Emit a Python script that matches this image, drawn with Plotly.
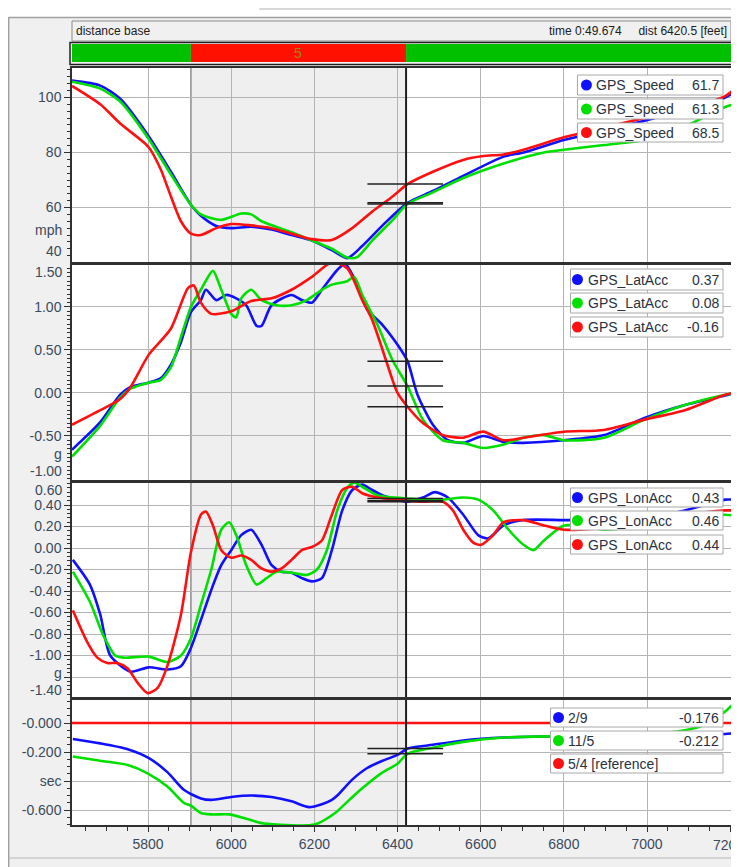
import plotly.graph_objects as go
from plotly.subplots import make_subplots

# ------------------------------------------------------------------ data
X_RANGE = [5617, 7202]
CURSOR = 6420.5
SECTION_BOUNDS = [5617, 5903, 6420.5, 7202]
SECTION_COLORS = ["#00c000", "#ff1000", "#00c000"]
SECTION_LABELS = ["", "5", ""]
EDGE_TICK = 7200  # last x tick, its label is cut by the window edge

speed_blue_x = [5617, 5685, 5733, 5801, 5855, 5903, 5927, 5964, 6000, 6048, 6097, 6145, 6194, 6242, 6279, 6315, 6364, 6424, 6485, 6558, 6655, 6703, 6800, 6897, 6994, 7091, 7188, 7210]
speed_blue_y = [106.1, 104.3, 99.5, 86, 73, 61, 57, 53.3, 52.5, 53, 52, 50, 48, 44.5, 41.6, 46, 53.5, 61.7, 66, 71.5, 78.5, 80, 84.5, 88, 91.5, 95.5, 100, 102]
speed_green_x = [5617, 5685, 5733, 5801, 5855, 5903, 5927, 5976, 6024, 6048, 6073, 6145, 6194, 6242, 6279, 6303, 6339, 6388, 6424, 6485, 6558, 6655, 6752, 6800, 6897, 6994, 7091, 7188, 7210]
speed_green_y = [105.7, 103.2, 98.5, 85, 72, 61, 57.5, 55.5, 57.8, 57.5, 55, 51, 48, 45, 41.8, 42, 48, 55.4, 61.3, 65.5, 70.7, 76, 80, 81, 82.7, 84.5, 89.5, 96.5, 97.5]
speed_red_x = [5617, 5685, 5733, 5801, 5830, 5855, 5879, 5903, 5927, 5964, 6000, 6048, 6097, 6145, 6194, 6242, 6291, 6339, 6388, 6424, 6485, 6558, 6606, 6655, 6703, 6800, 6897, 6994, 7091, 7188, 7210]
speed_red_y = [104.2, 97.5, 90.5, 82, 74, 64, 55, 50.5, 50, 52.5, 54, 53.5, 52.5, 50.5, 48.5, 48.2, 52.5, 58.5, 64, 68.5, 73, 77.3, 78.7, 79.3, 81, 85.5, 89, 92.5, 95.5, 100.5, 103]

lat_blue_x = [5617, 5685, 5733, 5758, 5801, 5830, 5855, 5879, 5903, 5927, 5939, 5964, 5988, 6012, 6036, 6061, 6073, 6097, 6145, 6170, 6194, 6218, 6255, 6274, 6303, 6327, 6364, 6400, 6424, 6448, 6485, 6521, 6558, 6606, 6655, 6703, 6800, 6897, 6994, 7091, 7188, 7210]
lat_blue_y = [-0.66, -0.34, -0.02, 0.07, 0.12, 0.17, 0.33, 0.59, 0.94, 1.08, 1.2, 1.08, 1.14, 1.1, 1.02, 0.78, 0.78, 1.02, 1.14, 1.08, 1.05, 1.2, 1.43, 1.5, 1.26, 0.97, 0.79, 0.56, 0.37, -0.02, -0.37, -0.55, -0.58, -0.5, -0.57, -0.58, -0.55, -0.49, -0.29, -0.14, -0.03, 0.0]
lat_green_x = [5617, 5685, 5733, 5758, 5801, 5830, 5855, 5879, 5903, 5927, 5956, 5976, 6000, 6012, 6024, 6048, 6073, 6109, 6145, 6182, 6218, 6242, 6279, 6296, 6315, 6352, 6388, 6424, 6461, 6509, 6558, 6606, 6655, 6703, 6752, 6800, 6897, 6994, 7091, 7188, 7210]
lat_green_y = [-0.74, -0.38, -0.05, 0.05, 0.12, 0.15, 0.3, 0.65, 1.0, 1.2, 1.42, 1.2, 0.92, 0.88, 1.1, 1.2, 1.08, 1.02, 1.02, 1.08, 1.2, 1.26, 1.3, 1.35, 1.14, 0.79, 0.38, 0.08, -0.31, -0.55, -0.58, -0.64, -0.6, -0.52, -0.49, -0.55, -0.52, -0.31, -0.14, -0.02, 0.0]
lat_red_x = [5617, 5685, 5733, 5758, 5801, 5855, 5896, 5910, 5927, 5952, 6000, 6048, 6097, 6145, 6194, 6242, 6279, 6315, 6339, 6364, 6388, 6400, 6424, 6461, 6509, 6558, 6606, 6655, 6703, 6800, 6897, 6994, 7091, 7188, 7210]
lat_red_y = [-0.37, -0.2, -0.07, 0.07, 0.44, 0.75, 1.22, 1.25, 1.05, 0.92, 0.95, 1.07, 1.1, 1.2, 1.35, 1.52, 1.45, 1.08, 0.85, 0.5, 0.15, 0.0, -0.16, -0.35, -0.49, -0.52, -0.45, -0.55, -0.52, -0.45, -0.43, -0.31, -0.2, -0.02, 0.0]

lon_blue_x = [5619, 5660, 5685, 5709, 5758, 5801, 5847, 5879, 5903, 5927, 5952, 5976, 6000, 6024, 6048, 6073, 6097, 6121, 6145, 6170, 6194, 6218, 6242, 6267, 6291, 6315, 6339, 6364, 6400, 6424, 6461, 6490, 6521, 6558, 6594, 6618, 6655, 6703, 6800, 6897, 6994, 7091, 7188, 7210]
lon_blue_y = [-0.11, -0.34, -0.62, -1.0, -1.15, -1.11, -1.13, -1.1, -0.93, -0.67, -0.39, -0.16, -0.02, 0.12, 0.17, 0.03, -0.16, -0.22, -0.23, -0.28, -0.31, -0.28, -0.02, 0.35, 0.54, 0.59, 0.54, 0.49, 0.45, 0.43, 0.47, 0.52, 0.47, 0.31, 0.12, 0.09, 0.21, 0.26, 0.26, 0.26, 0.28, 0.35, 0.45, 0.45]
lon_green_x = [5619, 5660, 5692, 5721, 5741, 5801, 5847, 5879, 5903, 5927, 5952, 5976, 5995, 6012, 6036, 6061, 6085, 6109, 6145, 6182, 6206, 6230, 6255, 6279, 6296, 6315, 6352, 6424, 6509, 6558, 6594, 6630, 6667, 6703, 6727, 6752, 6800, 6848, 6897, 6994, 7091, 7188, 7210]
lon_green_y = [-0.22, -0.5, -0.81, -1.0, -1.02, -1.01, -1.06, -1.0, -0.84, -0.53, -0.2, 0.17, 0.24, 0.12, -0.16, -0.34, -0.28, -0.22, -0.23, -0.25, -0.2, -0.02, 0.35, 0.56, 0.61, 0.57, 0.49, 0.46, 0.45, 0.47, 0.45, 0.35, 0.17, 0.03, -0.02, 0.07, 0.21, 0.2, 0.17, 0.21, 0.26, 0.31, 0.3]
lon_red_x = [5619, 5653, 5678, 5702, 5726, 5751, 5774, 5799, 5823, 5847, 5879, 5903, 5927, 5939, 5956, 5976, 6000, 6024, 6048, 6073, 6097, 6121, 6145, 6170, 6194, 6218, 6242, 6267, 6291, 6315, 6352, 6424, 6461, 6509, 6533, 6558, 6582, 6601, 6630, 6655, 6703, 6752, 6800, 6897, 6994, 7091, 7188, 7210]
lon_red_y = [-0.58, -0.87, -1.02, -1.07, -1.07, -1.12, -1.25, -1.35, -1.3, -1.09, -0.62, -0.04, 0.31, 0.34, 0.21, -0.02, -0.09, -0.07, -0.11, -0.19, -0.22, -0.19, -0.11, -0.02, 0.01, 0.07, 0.31, 0.54, 0.57, 0.51, 0.47, 0.44, 0.43, 0.43, 0.35, 0.17, 0.05, 0.03, 0.12, 0.24, 0.26, 0.21, 0.17, 0.19, 0.26, 0.31, 0.35, 0.35]

time_blue_x = [5619, 5685, 5751, 5801, 5847, 5886, 5927, 5952, 6000, 6048, 6097, 6145, 6187, 6218, 6242, 6255, 6291, 6327, 6364, 6400, 6424, 6485, 6558, 6655, 6800, 6897, 6994, 7091, 7188, 7210]
time_blue_y = [-0.11, -0.14, -0.18, -0.24, -0.34, -0.46, -0.52, -0.53, -0.51, -0.5, -0.51, -0.54, -0.58, -0.56, -0.53, -0.5, -0.39, -0.31, -0.26, -0.22, -0.176, -0.15, -0.12, -0.1, -0.09, -0.085, -0.08, -0.078, -0.075, -0.07]
time_green_x = [5619, 5685, 5751, 5801, 5847, 5886, 5903, 5927, 5952, 5995, 6036, 6073, 6110, 6200, 6250, 6284, 6315, 6364, 6400, 6424, 6485, 6558, 6655, 6800, 6994, 7091, 7139, 7188, 7210]
time_green_y = [-0.23, -0.26, -0.29, -0.35, -0.44, -0.55, -0.57, -0.62, -0.63, -0.63, -0.66, -0.69, -0.7, -0.7, -0.62, -0.53, -0.45, -0.34, -0.28, -0.212, -0.17, -0.13, -0.1, -0.09, -0.08, -0.05, -0.01, 0.08, 0.14]
time_red_x = [5617, 7210]
time_red_y = [0.0, 0.0]

speed_names = ["GPS_Speed", "GPS_Speed", "GPS_Speed"]
speed_vals = [61.7, 61.3, 68.5]
lat_names = ["GPS_LatAcc", "GPS_LatAcc", "GPS_LatAcc"]
lat_vals = [0.37, 0.08, -0.16]
lon_names = ["GPS_LonAcc", "GPS_LonAcc", "GPS_LonAcc"]
lon_vals = [0.43, 0.46, 0.44]
time_names = ["2/9", "11/5", "5/4 [reference]"]
time_vals = [-0.176, -0.212, None]

# ------------------------------------------------------------------ style
BLUE, GREEN, RED = "#1010ff", "#00e000", "#ff1010"
COLORS = [BLUE, GREEN, RED]
FONT = "Liberation Sans"
TICKC = "#3b4a5c"
GRIDC = "#b4b4b4"
AXC = "#303030"
OFF = 8                      # page body margin
W, H = 739 - OFF, 867 - OFF  # figure size
L, T, PW, PH = 72 - OFF, 68 - OFF, 661, 757


def PX(x):
    """reference-page pixel x -> paper coordinate"""
    return (x - OFF - L) / PW


def PY(y):
    """reference-page pixel y -> paper coordinate"""
    return (T + PH - (y - OFF)) / PH


fig = make_subplots(rows=4, cols=1, shared_xaxes=True, vertical_spacing=0.01)

panels = [
    ([speed_blue_x, speed_green_x, speed_red_x], [speed_blue_y, speed_green_y, speed_red_y]),
    ([lat_blue_x, lat_green_x, lat_red_x], [lat_blue_y, lat_green_y, lat_red_y]),
    ([lon_blue_x, lon_green_x, lon_red_x], [lon_blue_y, lon_green_y, lon_red_y]),
    ([time_blue_x, time_green_x, time_red_x], [time_blue_y, time_green_y, time_red_y]),
]
for r, (xs, ys) in enumerate(panels, start=1):
    for c, xx, yy in zip(COLORS, xs, ys):
        fig.add_trace(go.Scatter(x=xx, y=yy, mode="lines", showlegend=False,
                                 line=dict(color=c, width=2.6, shape="spline", smoothing=0.7),
                                 hoverinfo="skip"), row=r, col=1)

# pixel extents (reference page) of each panel
pix = [(68, 262), (265, 480), (483, 697), (700, 825)]
yranges = [[40.2, 110.7], [-1.012, 1.488], [-1.386, 0.605], [-0.703, 0.159]]
tickvals = [[100, 80, 60], [1.0, 0.5, 0.0, -0.5], [0.4, 0.2, 0.0, -0.2, -0.4, -0.6, -0.8, -1.0, -1.2], [0.0, -0.2, -0.4, -0.6]]
ticktext = [["100", "80", "60"], ["1.00", "0.50", "0.00", "-0.50"],
            ["0.40", "0.20", "0.00", "-0.20", "-0.40", "-0.60", "-0.80", "-1.00", ""],
            ["-0.000", "-0.200", "sec", "-0.600"]]
minor_dt = [2.5, 0.05, 0.04, 0.05]

for i in range(4):
    yname = "yaxis" if i == 0 else f"yaxis{i+1}"
    top, bot = pix[i]
    fig.layout[yname].update(
        domain=[PY(bot), PY(top)], range=yranges[i], tickmode="array",
        tickvals=tickvals[i], ticktext=ticktext[i], ticks="outside", ticklen=6,
        tickcolor=AXC, tickwidth=1, showline=True, mirror=True, linecolor=AXC, linewidth=1.5,
        showgrid=True, gridcolor=GRIDC, gridwidth=1, zeroline=False,
        tickfont=dict(family=FONT, size=14, color=TICKC),
        minor=dict(tickmode="linear", tick0=0, dtick=minor_dt[i], ticks="outside", ticklen=3,
                   tickcolor=AXC, showgrid=False),
    )
    xname = "xaxis" if i == 0 else f"xaxis{i+1}"
    fig.layout[xname].update(
        range=X_RANGE, tick0=5800, dtick=200, showgrid=True, gridcolor=GRIDC, gridwidth=1,
        showline=True, mirror=True, linecolor=AXC, linewidth=1.5, zeroline=False,
        showticklabels=(i == 3), ticks="outside" if i == 3 else "", ticklen=5, tickcolor=AXC,
        tickfont=dict(family=FONT, size=14, color=TICKC),
    )
fig.layout.xaxis4.minor = dict(dtick=50, tick0=5800, ticks="outside", ticklen=4, tickcolor=AXC, showgrid=False)

shapes = []
annots = []
# outer window frame
shapes.append(dict(type="rect", xref="paper", yref="paper", x0=PX(0), x1=PX(739), y0=PY(17), y1=PY(0),
                   fillcolor="white", line=dict(width=0), layer="above"))
shapes.append(dict(type="line", xref="paper", yref="paper", x0=PX(8.5), x1=PX(8.5), y0=PY(867), y1=PY(17),
                   line=dict(color="#a0a0a0", width=1.5), layer="above"))
shapes.append(dict(type="line", xref="paper", yref="paper", x0=PX(8.5), x1=PX(739), y0=PY(17.5), y1=PY(17.5),
                   line=dict(color="#a0a0a0", width=1.5), layer="above"))
shapes.append(dict(type="line", xref="paper", yref="paper", x0=PX(260), x1=PX(739), y0=PY(9), y1=PY(9),
                   line=dict(color="#b0b0b0", width=1), layer="above"))
shapes.append(dict(type="line", xref="paper", yref="paper", x0=PX(8.5), x1=PX(739), y0=PY(858), y1=PY(858),
                   line=dict(color="#b8b8b8", width=1), layer="above"))

# header
shapes.append(dict(type="rect", xref="paper", yref="paper", x0=PX(72), x1=PX(733), y0=PY(41), y1=PY(21),
                   fillcolor="#f0f0f0", line=dict(color="#8a8a8a", width=1), layer="above"))
annots.append(dict(text="distance base", xref="paper", yref="paper", x=PX(74), y=PY(31), xanchor="left",
                   yanchor="middle", showarrow=False, font=dict(family=FONT, size=12, color="#202020")))
annots.append(dict(text="time 0:49.674&nbsp;&nbsp;&nbsp;&nbsp;&nbsp;dist 6420.5 [feet]", xref="paper", yref="paper",
                   x=PX(731), y=PY(31), xanchor="right", yanchor="middle", showarrow=False,
                   font=dict(family=FONT, size=12, color="#202020")))
# section bar
shapes.append(dict(type="rect", xref="paper", yref="paper", x0=PX(70), x1=PX(734.5), y0=PY(64.5), y1=PY(42.5),
                   fillcolor="rgba(0,0,0,0)", line=dict(color="#202020", width=1.5), layer="above"))
for i, col in enumerate(SECTION_COLORS):
    shapes.append(dict(type="rect", xref="x", yref="paper", x0=SECTION_BOUNDS[i], x1=SECTION_BOUNDS[i + 1],
                       y0=PY(62), y1=PY(44), fillcolor=col, line=dict(width=0), layer="above"))
    if SECTION_LABELS[i]:
        annots.append(dict(text=SECTION_LABELS[i], xref="x", yref="paper",
                           x=(SECTION_BOUNDS[i] + SECTION_BOUNDS[i + 1]) / 2, y=PY(53), yanchor="middle",
                           showarrow=False, font=dict(family=FONT, size=14, color="#a88400")))

# shading, boundary, cursor per panel
yrefs = ["y", "y2", "y3", "y4"]
for i in range(4):
    shapes.append(dict(type="rect", xref="x", yref=f"{yrefs[i]} domain", x0=SECTION_BOUNDS[1], x1=CURSOR,
                       y0=0, y1=1, fillcolor="#efefef", line=dict(width=0), layer="below"))
    shapes.append(dict(type="line", xref="x", yref=f"{yrefs[i]} domain", x0=SECTION_BOUNDS[1], x1=SECTION_BOUNDS[1],
                       y0=0, y1=1, line=dict(color="#8c8c8c", width=1.5), layer="below"))
    shapes.append(dict(type="line", xref="x", yref=f"{yrefs[i]} domain", x0=CURSOR, x1=CURSOR,
                       y0=0, y1=1, line=dict(color="#202020", width=2), layer="above"))

# cursor value markers
cursor_vals = [speed_vals, lat_vals, lon_vals, time_vals]
for i in range(4):
    for v in cursor_vals[i]:
        if v is None:
            continue
        shapes.append(dict(type="line", xref="x", yref=yrefs[i], x0=CURSOR - 93, x1=CURSOR + 89, y0=v, y1=v,
                           line=dict(color="#202020", width=1.5), layer="above"))


# unit / edge labels
def side_label(text, py, size=14):
    annots.append(dict(text=text, xref="paper", yref="paper", x=PX(64), y=PY(py), xanchor="right",
                       yanchor="middle", showarrow=False, font=dict(family=FONT, size=size, color=TICKC)))


side_label("40", 251)
side_label("mph", 230)
side_label("1.50", 272)
side_label("g", 454)
side_label("-1.00", 471)
side_label("0.60", 490)
side_label("g", 673)
side_label("-1.40", 690)

# last x tick label: it is cut by the window edge, so draw it in a fixed-width (clipping) text box
label_left = 714.0
annots.append(dict(text=str(EDGE_TICK), xref="paper", yref="paper", x=PX(label_left), y=PY(845),
                   xanchor="left", yanchor="middle", align="left", width=739 - label_left - 0.5,
                   borderpad=0, showarrow=False, font=dict(family=FONT, size=14, color=TICKC)))

# legend boxes
leg_layout = [
    dict(bx=(579, 725), rows=[(75, 95), (99, 119), (123, 142)], mx=588, tx=596),
    dict(bx=(572, 725), rows=[(269, 290), (293, 313), (317, 337)], mx=579, tx=588),
    dict(bx=(572, 725), rows=[(488, 507), (511, 530), (535, 554)], mx=579, tx=588),
    dict(bx=(552, 725), rows=[(708, 727), (731, 750), (754, 773)], mx=560, tx=568),
]
leg_names = [speed_names, lat_names, lon_names, time_names]
fmts = ["{:.1f}", "{:.2f}", "{:.2f}", "{:.3f}"]
for i, lay in enumerate(leg_layout):
    for j, (y0, y1) in enumerate(lay["rows"]):
        shapes.append(dict(type="rect", xref="paper", yref="paper", x0=PX(lay["bx"][0]), x1=PX(lay["bx"][1]),
                           y0=PY(y1), y1=PY(y0), fillcolor="white", line=dict(color="#a8a8a8", width=1),
                           layer="above"))
        yc = (y0 + y1) / 2
        shapes.append(dict(type="circle", xref="paper", yref="paper", x0=PX(lay["mx"] - 5.5), x1=PX(lay["mx"] + 5.5),
                           y0=PY(yc + 5.5), y1=PY(yc - 5.5), fillcolor=COLORS[j], line=dict(width=0),
                           layer="above"))
        annots.append(dict(text=leg_names[i][j], xref="paper", yref="paper", x=PX(lay["tx"]), y=PY(yc),
                           xanchor="left", yanchor="middle", showarrow=False,
                           font=dict(family=FONT, size=14, color="#2a3140")))
        v = cursor_vals[i][j]
        if v is not None:
            annots.append(dict(text=fmts[i].format(v), xref="paper", yref="paper", x=PX(723), y=PY(yc),
                               xanchor="right", yanchor="middle", showarrow=False,
                               font=dict(family=FONT, size=14, color="#2a3140")))

fig.update_layout(
    width=W, height=H, margin=dict(l=L, r=W - L - PW, t=T, b=H - T - PH),
    paper_bgcolor="#f0f0f0", plot_bgcolor="white", showlegend=False,
    shapes=shapes, annotations=annots, font=dict(family=FONT),
)

fig.write_html("out.html")
